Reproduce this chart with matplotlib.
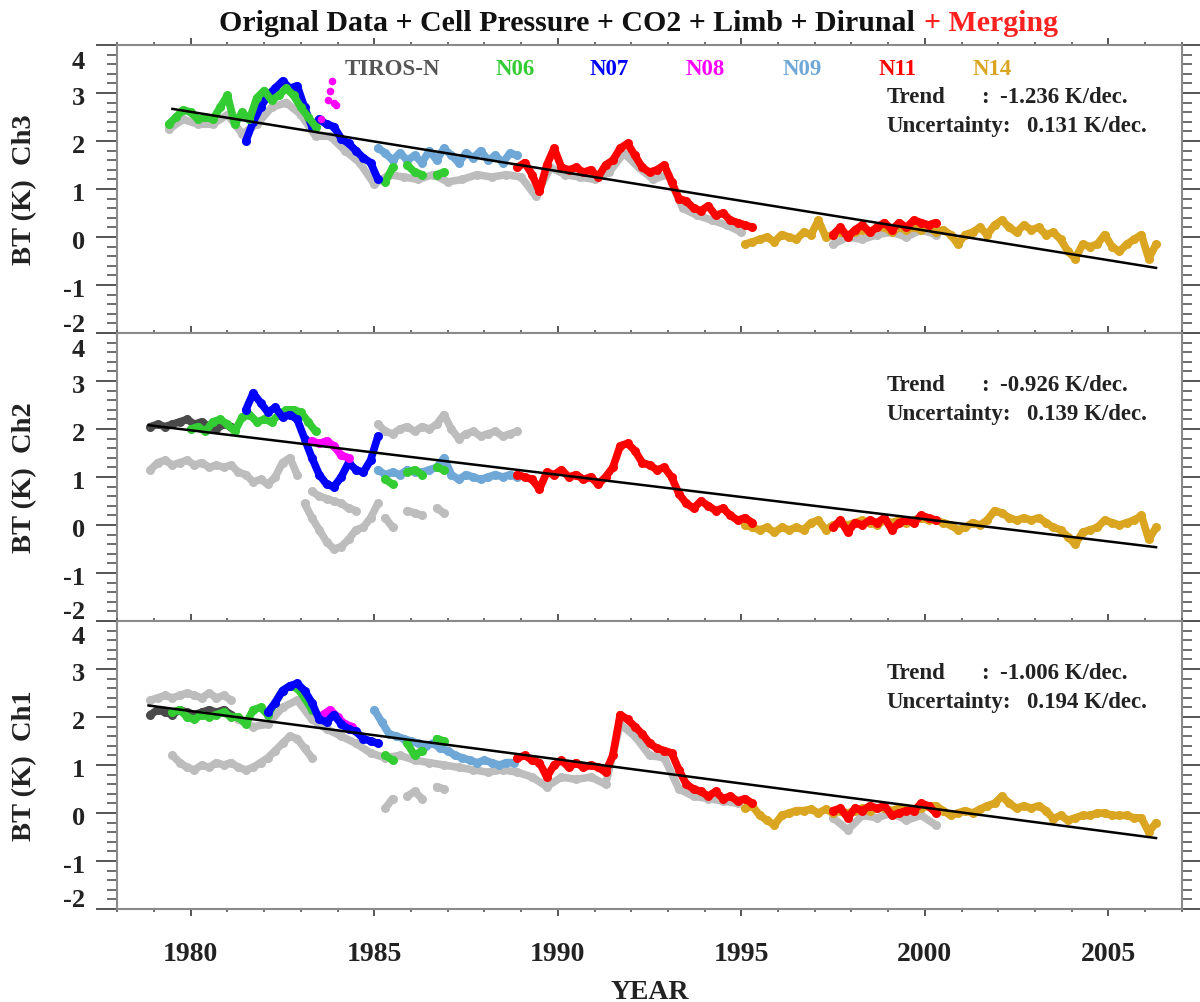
import numpy as np
import matplotlib
matplotlib.use('Agg')
import matplotlib.pyplot as plt
from matplotlib.ticker import MultipleLocator
from matplotlib.transforms import offset_copy

plt.rcParams['font.family'] = ['Liberation Serif', 'DejaVu Serif']
plt.rcParams['font.weight'] = 'bold'

nan = np.nan

# satellites and colours
sat_names = ['TIROS-N', 'N06', 'N07', 'N08', 'N09', 'N11', 'N14']
sat_colors = ['#4a4a4a', '#33cc33', '#0000ff', '#ff00ff', '#6fa8d6', '#ff0000', '#daa520']
orig_color = '#bdbdbd'

channels = ['Ch3', 'Ch2', 'Ch1']
trend_vals = [-1.236, -0.926, -1.006]      # K/dec.
uncert_vals = [0.131, 0.139, 0.194]        # K/dec.
trend_start_year = [1979.5, 1978.85, 1978.85]
trend_start_val = [2.67, 2.08, 2.24]
trend_end_year = 2006.3

# ---------------- Ch3 (values every 0.2 yr unless noted) ----------------
ch3_n06a_start = 1979.4
ch3_n06a = [2.35, 2.5, 2.65, 2.6, 2.45, 2.5, 2.45, 2.7, 2.95, 2.35, 2.6, 2.45,
            2.9, 3.05, 2.85, 2.95, 3.1, 2.95, 2.7, 2.5, 2.3]
ch3_n06b_start = 1985.3
ch3_n06b = [1.15, 1.45, nan, 1.5, 1.35, 1.3, nan, 1.3, 1.35]
ch3_n07_start = 1981.5
ch3_n07 = [2.0, 2.4, 2.7, 2.95, 3.1, 3.25, 3.1, 3.15, 2.7, 2.3, 2.45, 2.35,
           2.3, 2.05, 1.95, 1.8, 1.65, 1.55, 1.2]
ch3_n08_years = [1983.55, 1983.75, 1983.8, 1983.85, 1983.9, 1983.95]
ch3_n08 = [2.45, 2.85, 3.05, 3.25, 2.8, 2.75]
ch3_n09_start = 1985.1
ch3_n09 = [1.85, 1.75, 1.6, 1.75, 1.6, 1.7, 1.55, 1.8, 1.6, 1.85, 1.7, 1.55,
           1.75, 1.65, 1.8, 1.6, 1.7, 1.55, 1.75, 1.7]
ch3_n11a_start = 1988.9
ch3_n11a = [1.45, 1.55, 1.3, 0.95, 1.5, 1.85, 1.45, 1.4, 1.45, 1.35, 1.4, 1.25,
            1.5, 1.6, 1.85, 1.95, 1.7, 1.45, 1.35, 1.4, 1.5, 1.15, 0.8, 0.75,
            0.6, 0.55, 0.65, 0.45, 0.5, 0.35, 0.3, 0.25, 0.2]
ch3_n11b_start = 1997.5
ch3_n11b = [0.05, 0.2, 0.0, 0.15, 0.25, 0.1, 0.2, 0.3, 0.15, 0.3, 0.2, 0.35,
            0.3, 0.25, 0.3]
ch3_n14_start = 1995.1
ch3_n14 = [-0.15, -0.1, -0.05, 0.0, -0.1, 0.05, 0.0, -0.05, 0.1, 0.05, 0.35, 0.0,
           0.05, 0.1, 0.05, 0.1, 0.15, 0.1, 0.2, 0.2, 0.1, 0.2, 0.15, 0.2,
           0.15, 0.2, 0.1, 0.15, 0.05, -0.15, 0.05, 0.1, 0.2, 0.05, 0.25, 0.35,
           0.2, 0.1, 0.25, 0.15, 0.2, 0.05, 0.1, -0.05, -0.3, -0.45, -0.15, -0.2,
           -0.15, 0.05, -0.2, -0.3, -0.15, -0.05, 0.05, -0.45, -0.15]
# original (unmerged) data, every 0.4 yr
ch3_orig_a_start = 1979.4
ch3_orig_a = [2.25, 2.45, 2.35, 2.35, 2.55, 2.15, 2.35, 2.7, 2.8, 2.55, 2.1, 2.1,
              1.8, 1.55, 1.1, 1.3, 1.25, 1.2, 1.3, 1.15, 1.2, 1.3, 1.25, 1.3,
              1.25, 0.85, 1.45, 1.3, 1.25, 1.2, 1.35, 1.75, 1.45, 1.2, 1.3, 0.6,
              0.45, 0.35, 0.25, 0.1]
ch3_orig_b_start = 1997.5
ch3_orig_b = [-0.15, 0.0, -0.05, 0.05, 0.1, 0.0, 0.15, 0.05]

# ---------------- Ch2 ----------------
ch2_tiros_start = 1978.9
ch2_tiros = [2.05, 2.1, 2.05, 2.1, 2.15, 2.2, 2.1, 2.15, 2.05, 2.0, 2.1, 2.05]
ch2_n06a_start = 1980.0
ch2_n06a = [2.0, 2.05, 1.95, 2.15, 2.2, 2.1, 1.95, 2.25, 2.3, 2.15, 2.2, 2.15,
            2.3, 2.4, 2.4, 2.35, 2.15, 1.95]
ch2_n06b_start = 1985.3
ch2_n06b = [0.95, 0.85, nan, 1.1, 1.15, 1.05, nan, 1.2, 1.15]
ch2_n07_start = 1981.5
ch2_n07 = [2.4, 2.75, 2.55, 2.35, 2.45, 2.25, 2.3, 2.2, 1.8, 1.4, 1.05, 0.85,
           0.8, 1.0, 1.3, 1.15, 1.1, 1.35, 1.85]
ch2_n08_start = 1983.3
ch2_n08 = [1.75, 1.7, 1.75, 1.65, 1.45, 1.4]
ch2_n09_start = 1985.1
ch2_n09 = [1.15, 1.05, 1.1, 1.05, 1.15, 1.1, 1.1, 1.15, 1.2, 1.4, 1.05, 0.95,
           1.05, 1.0, 0.95, 1.0, 1.05, 1.0, 1.05, 1.0]
ch2_n11a_start = 1988.9
ch2_n11a = [1.05, 1.0, 0.95, 0.75, 1.1, 1.05, 1.15, 1.0, 1.05, 0.95, 1.0, 0.85,
            1.0, 1.2, 1.65, 1.7, 1.55, 1.3, 1.25, 1.15, 1.2, 1.0, 0.65, 0.45,
            0.35, 0.5, 0.4, 0.3, 0.35, 0.2, 0.1, 0.15, 0.05]
ch2_n11b_start = 1997.5
ch2_n11b = [-0.05, 0.1, -0.15, 0.05, 0.0, 0.1, 0.05, 0.15, -0.1, 0.05, 0.1, 0.05,
            0.2, 0.15, 0.1]
ch2_n14_start = 1995.1
ch2_n14 = [0.0, -0.05, -0.1, -0.05, -0.15, -0.05, -0.1, -0.05, -0.1, 0.05, 0.1, -0.1,
           0.0, 0.05, 0.0, 0.05, 0.1, 0.05, 0.0, 0.1, 0.05, 0.1, 0.05, 0.1,
           0.15, 0.1, 0.1, 0.05, 0.0, -0.1, -0.05, 0.05, 0.0, 0.1, 0.3, 0.25,
           0.15, 0.1, 0.15, 0.1, 0.15, 0.05, -0.05, -0.1, -0.25, -0.4, -0.15, -0.1,
           -0.05, 0.1, 0.05, 0.0, 0.05, 0.1, 0.2, -0.3, -0.05]
ch2_orig_a_start = 1978.9
ch2_orig_a = [1.15, 1.3, 1.35, 1.25, 1.3, 1.35, 1.25, 1.3, 1.2, 1.25, 1.2, 1.25,
              1.1, 1.05, 0.9, 0.95, 0.85, 1.0, 1.3, 1.4, 1.05]
ch2_orig_b_start = 1983.1
ch2_orig_b = [0.45, 0.15, -0.1, -0.35, -0.5, -0.45, -0.3, -0.1, -0.05, 0.15, 0.45]
ch2_orig_c_start = 1983.3
ch2_orig_c = [0.7, 0.6, 0.55, 0.5, 0.45, 0.35, 0.3]
ch2_orig_d_start = 1985.3
ch2_orig_d = [0.15, -0.05, nan, 0.3, 0.25, 0.2, nan, 0.35, 0.25]
ch2_orig_e_start = 1985.1
ch2_orig_e = [2.1, 1.95, 1.9, 2.0, 2.05, 1.95, 2.05, 2.0, 2.1, 2.3, 2.0, 1.8,
              1.9, 1.95, 1.85, 1.9, 1.95, 1.85, 1.9, 1.95]

# ---------------- Ch1 ----------------
ch1_tiros_start = 1978.9
ch1_tiros = [2.05, 2.15, 2.1, 2.05, 2.15, 2.1, 2.05, 2.1, 2.15, 2.1, 2.15, 2.05]
ch1_n06a_start = 1979.5
ch1_n06a = [2.1, 2.15, 2.0, 1.95, 2.05, 2.0, 2.05, 2.1, 2.0, 2.0, 1.85, 2.15,
            2.2, 2.05, 2.3, 2.55, 2.65, 2.6, 2.4, 2.15]
ch1_n06b_start = 1985.3
ch1_n06b = [1.2, 1.1, nan, 1.45, 1.2, 1.3, nan, 1.55, 1.5]
ch1_n07_start = 1982.1
ch1_n07 = [2.1, 2.3, 2.55, 2.65, 2.7, 2.55, 2.3, 1.95, 1.9, 2.05, 1.85, 1.75,
           1.7, 1.55, 1.5, 1.45]
ch1_n08_start = 1983.6
ch1_n08 = [2.05, 2.15, 2.0, 1.85, 1.8]
ch1_n09_start = 1985.0
ch1_n09 = [2.15, 1.9, 1.65, 1.6, 1.55, 1.5, 1.45, 1.4, 1.45, 1.35, 1.3, 1.2,
           1.15, 1.1, 1.05, 1.1, 1.05, 1.0, 1.05, 1.05]
ch1_n11a_start = 1988.9
ch1_n11a = [1.15, 1.2, 1.1, 1.05, 0.75, 1.0, 1.1, 0.95, 1.05, 0.95, 1.0, 0.95,
            0.85, 1.2, 2.05, 1.95, 1.8, 1.65, 1.45, 1.35, 1.3, 1.25, 0.9, 0.6,
            0.5, 0.45, 0.35, 0.45, 0.3, 0.35, 0.25, 0.3, 0.2]
ch1_n11b_start = 1997.5
ch1_n11b = [0.05, 0.1, -0.1, 0.1, 0.05, 0.15, 0.1, 0.15, -0.05, 0.0, 0.05, 0.05,
            0.2, 0.15, 0.0]
ch1_n14_start = 1995.1
ch1_n14 = [0.1, 0.15, -0.05, -0.15, -0.25, -0.05, 0.0, 0.05, 0.05, 0.08, 0.0, 0.08,
           0.0, 0.05, 0.0, 0.05, 0.1, 0.05, 0.1, 0.1, 0.05, 0.1, 0.1, 0.05,
           0.1, 0.15, 0.15, 0.05, -0.05, 0.0, 0.05, 0.0, 0.08, 0.15, 0.2, 0.35,
           0.2, 0.1, 0.15, 0.1, 0.15, 0.05, -0.12, -0.05, -0.15, -0.1, -0.05, -0.05,
           0.0, 0.0, -0.05, -0.05, -0.05, -0.1, -0.1, -0.4, -0.2]
ch1_orig_a_start = 1978.9
ch1_orig_a = [2.35, 2.4, 2.45, 2.4, 2.45, 2.5, 2.45, 2.4, 2.5, 2.4, 2.45, 2.35]
ch1_orig_b_start = 1979.5
ch1_orig_b = [1.2, 1.05, 0.95, 0.9, 1.0, 0.95, 1.05, 1.0, 1.05, 0.95, 0.9, 0.95,
              1.05, 1.15, 1.3, 1.45, 1.6, 1.55, 1.35, 1.15]
ch1_orig_c_start = 1981.3   # every 0.4 yr
ch1_orig_c = [1.95, 1.8, 1.85, 2.2, 2.35, 1.95, 1.75, 1.6, 1.45, 1.25, 1.15, 1.2,
              1.1, 1.05, 1.0, 0.95, 0.9, 0.85, 0.9, 0.85, 0.75, 0.55, 0.75, 0.7,
              0.75, 0.6, 1.85, 1.6, 1.2, 1.15, 0.5, 0.35, 0.3, 0.25, 0.2]
ch1_orig_d_start = 1985.3
ch1_orig_d = [0.1, 0.3, nan, 0.35, 0.45, 0.3, nan, 0.55, 0.5]
ch1_orig_e_start = 1997.5   # every 0.4 yr
ch1_orig_e = [-0.1, -0.35, -0.05, -0.1, 0.0, -0.15, -0.05, -0.25]

C = dict(zip(sat_names, sat_colors))
G = orig_color

# (start, values, colour, step) in drawing order, per panel
panels = [
    [(ch3_orig_a_start, ch3_orig_a, G, 0.4), (ch3_orig_b_start, ch3_orig_b, G, 0.4),
     (ch3_n14_start, ch3_n14, C['N14'], 0.2), (ch3_n09_start, ch3_n09, C['N09'], 0.2),
     (ch3_n06b_start, ch3_n06b, C['N06'], 0.2), (ch3_n07_start, ch3_n07, C['N07'], 0.2),
     (ch3_n06a_start, ch3_n06a, C['N06'], 0.2), (ch3_n11a_start, ch3_n11a, C['N11'], 0.2),
     (ch3_n11b_start, ch3_n11b, C['N11'], 0.2)],
    [(ch2_orig_a_start, ch2_orig_a, G, 0.2), (ch2_orig_b_start, ch2_orig_b, G, 0.2),
     (ch2_orig_c_start, ch2_orig_c, G, 0.2), (ch2_orig_d_start, ch2_orig_d, G, 0.2),
     (ch2_orig_e_start, ch2_orig_e, G, 0.2),
     (ch2_tiros_start, ch2_tiros, C['TIROS-N'], 0.2), (ch2_n14_start, ch2_n14, C['N14'], 0.2),
     (ch2_n09_start, ch2_n09, C['N09'], 0.2), (ch2_n06b_start, ch2_n06b, C['N06'], 0.2),
     (ch2_n06a_start, ch2_n06a, C['N06'], 0.2), (ch2_n07_start, ch2_n07, C['N07'], 0.2),
     (ch2_n08_start, ch2_n08, C['N08'], 0.2), (ch2_n11a_start, ch2_n11a, C['N11'], 0.2),
     (ch2_n11b_start, ch2_n11b, C['N11'], 0.2)],
    [(ch1_orig_a_start, ch1_orig_a, G, 0.2), (ch1_orig_b_start, ch1_orig_b, G, 0.2),
     (ch1_orig_c_start, ch1_orig_c, G, 0.4), (ch1_orig_d_start, ch1_orig_d, G, 0.2),
     (ch1_orig_e_start, ch1_orig_e, G, 0.4),
     (ch1_tiros_start, ch1_tiros, C['TIROS-N'], 0.2), (ch1_n14_start, ch1_n14, C['N14'], 0.2),
     (ch1_n06a_start, ch1_n06a, C['N06'], 0.2), (ch1_n08_start, ch1_n08, C['N08'], 0.2),
     (ch1_n07_start, ch1_n07, C['N07'], 0.2), (ch1_n09_start, ch1_n09, C['N09'], 0.2),
     (ch1_n06b_start, ch1_n06b, C['N06'], 0.2), (ch1_n11a_start, ch1_n11a, C['N11'], 0.2),
     (ch1_n11b_start, ch1_n11b, C['N11'], 0.2)],
]

fig, axes = plt.subplots(3, 1, sharex=True, figsize=(12, 10.03), dpi=100)
fig.subplots_adjust(left=0.0978, right=0.9848, top=0.9541, bottom=0.0927, hspace=0)

spine_col = '#8a8a8a'
tick_col = '#555555'

for i, ax in enumerate(axes):
    for start, vals, col, step in panels[i]:
        x = start + step * np.arange(len(vals))
        ax.plot(x, vals, '-o', color=col, lw=5.5, ms=6.5, mew=0,
                solid_joinstyle='round', solid_capstyle='round')
    if i == 0:
        ax.plot(ch3_n08_years, ch3_n08, 'o', color=C['N08'], ms=5.5, mew=0)

    # linear trend
    x0 = trend_start_year[i]
    y0 = trend_start_val[i]
    y1 = y0 + trend_vals[i] / 10.0 * (trend_end_year - x0)
    ax.plot([x0, trend_end_year], [y0, y1], color='black', lw=1.8, zorder=5)

    ax.set_xlim(1978, 2007)
    ax.set_ylim(-2, 4)
    ax.xaxis.set_major_locator(MultipleLocator(5))
    ax.xaxis.set_minor_locator(MultipleLocator(1))
    ax.yaxis.set_major_locator(MultipleLocator(1))
    ax.yaxis.set_minor_locator(MultipleLocator(0.2))
    ax.tick_params(axis='x', which='major', direction='out', length=5, width=1.4,
                   color=tick_col, top=True, bottom=True, labelbottom=(i == 2),
                   labelsize=20, pad=18)
    ax.tick_params(axis='x', which='minor', direction='out', length=2.5, width=1.2,
                   color=tick_col, top=True, bottom=True)
    ax.tick_params(axis='y', which='major', direction='out', length=15, width=1.4,
                   color=tick_col, left=True, right=True, labelleft=False)
    ax.tick_params(axis='y', which='minor', direction='out', length=7.5, width=1.2,
                   color=tick_col, left=True, right=True)
    for s in ax.spines.values():
        s.set_color(spine_col)
        s.set_linewidth(1.5)

    # y tick labels, nudged like the original
    for v in range(-2, 5):
        dy = -3
        if v == -2:
            dy = 6.5
        elif v == 4:
            dy = -11.5
        tr = offset_copy(ax.get_yaxis_transform(), fig=fig, x=0, y=dy, units='points')
        ax.text(-0.0303, v, str(v), transform=tr, ha='right', va='center',
                fontsize=19, fontweight='bold', color='#222222')

    ax.set_ylabel('BT (K)  ' + channels[i], fontsize=20.5, fontweight='bold',
                  va='center', color='#222222')
    ax.yaxis.set_label_coords(-0.0867, 0.5)

    ax.text(0.723, 0.823, 'Trend', transform=ax.transAxes, fontsize=16.5,
            va='center', ha='left', color='#222222')
    ax.text(0.815, 0.823, ':', transform=ax.transAxes, fontsize=16.5,
            va='center', ha='center', color='#222222')
    ax.text(0.829, 0.823, '%.3f K/dec.' % trend_vals[i], transform=ax.transAxes,
            fontsize=16.5, va='center', ha='left', color='#222222')
    ax.text(0.723, 0.719, 'Uncertainty:', transform=ax.transAxes, fontsize=16.5,
            va='center', ha='left', color='#222222')
    ax.text(0.855, 0.719, '%.3f K/dec.' % uncert_vals[i], transform=ax.transAxes,
            fontsize=16.5, va='center', ha='left', color='#222222')

# satellite names along the top panel
name_x = [0.258, 0.374, 0.462, 0.552, 0.643, 0.733, 0.822]
for name, col, xx in zip(sat_names, sat_colors, name_x):
    tcol = '#555555' if name == 'TIROS-N' else col
    axes[0].text(xx, 0.917, name, transform=axes[0].transAxes, ha='center',
                 va='center', fontsize=16.5, color=tcol)

for lab in axes[2].get_xticklabels():
    lab.set_fontweight('bold')
    lab.set_color('#222222')
axes[2].set_xlabel('YEAR', fontsize=20, fontweight='bold', va='center', color='#222222')
axes[2].xaxis.set_label_coords(0.5, -(992 - 910) / 288.0)

fig.text(0.762, 0.977, 'Orignal Data + Cell Pressure + CO2 + Limb + Dirunal',
         ha='right', va='center', fontsize=21.5, fontweight='bold', color='#111111')
fig.text(0.770, 0.977, '+ Merging', ha='left', va='center', fontsize=21.5,
         fontweight='bold', color='#ff2020')

fig.savefig('out.png', dpi=100)
